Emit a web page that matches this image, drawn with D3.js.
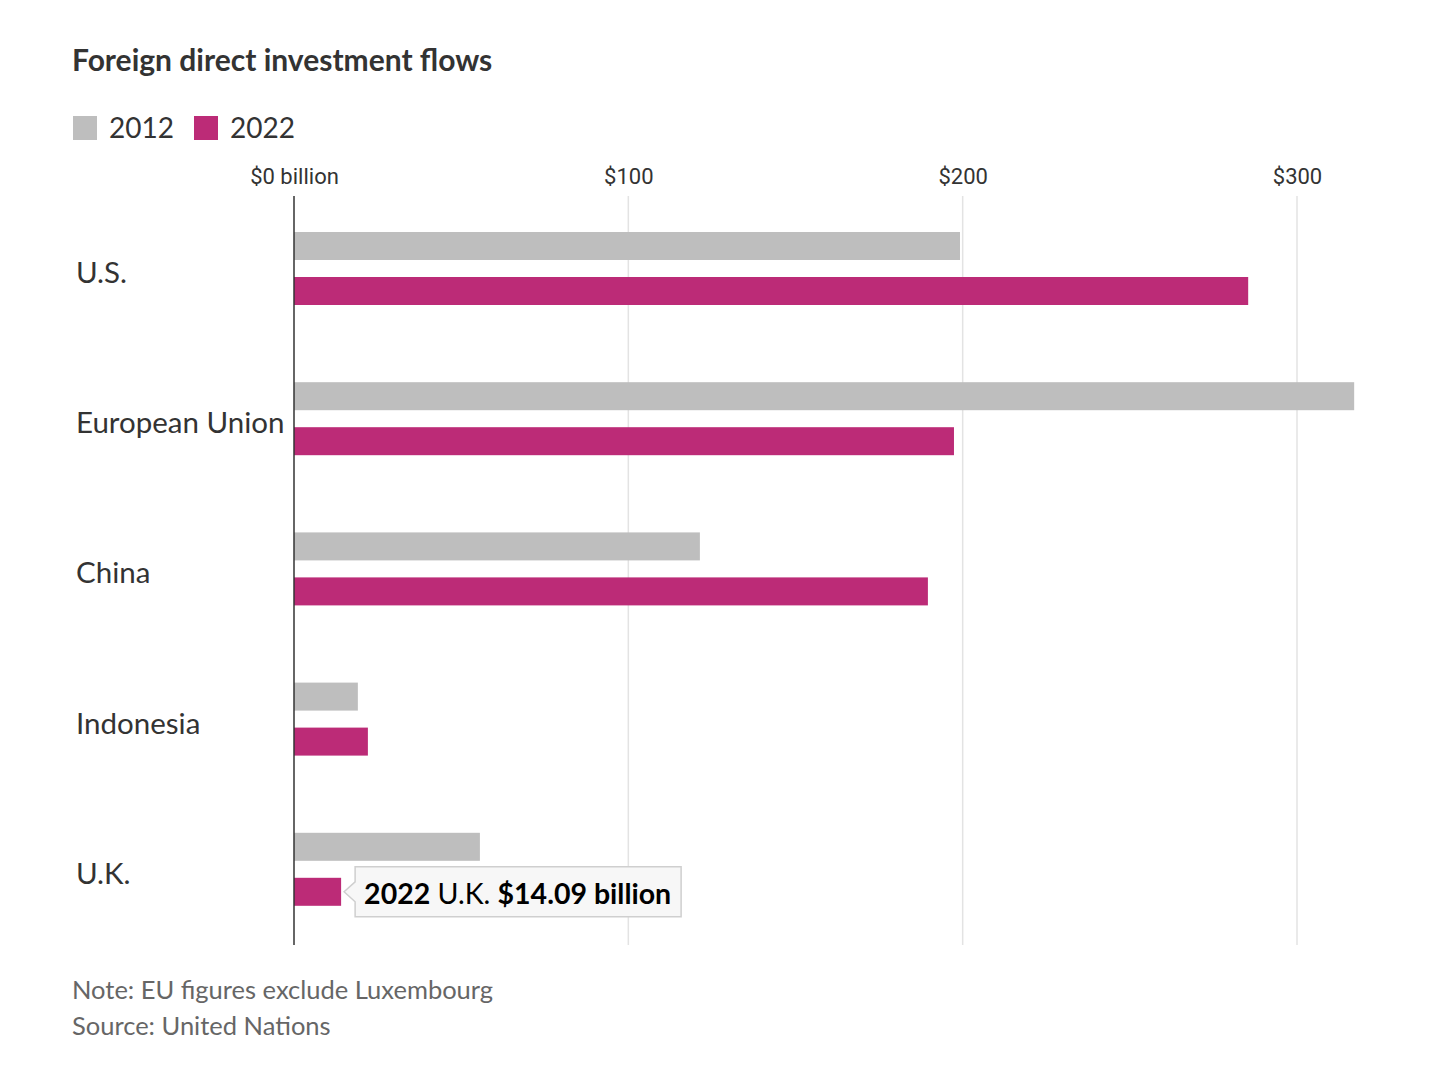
<!DOCTYPE html>
<html><head><meta charset="utf-8">
<script src="https://cdn.jsdelivr.net/npm/d3@7"></script>
<style>
body{margin:0;background:#fff;}
svg{display:block;}
</style></head><body>
<svg id="chart" width="1450" height="1072"></svg>
<script>
const countries = ["U.S.", "European Union", "China", "Indonesia", "U.K."];
const years = ["2012", "2022"];
const values2012 = [199.2, 317.1, 121.4, 19.1, 55.6];
const values2022 = [285.4, 197.4, 189.6, 22.1, 14.09];
const tickValues = [0, 100, 200, 300];
const tickLabels = ["$0 billion", "$100", "$200", "$300"];
const colors = {"2012": "#bebebe", "2022": "#bc2b77"};

const svg = d3.select("#chart");
const font = "Lato, 'Noto Sans', sans-serif";
const narrow = "'Liberation Sans Narrow', 'Roboto', sans-serif";

const x = d3.scaleLinear().domain([0, 300]).range([294, 1297]);
const y = d3.scaleBand().domain(countries).range([232, 906]).paddingInner(77/150.2).paddingOuter(0).align(0);
const yIn = d3.scaleBand().domain(years).range([0, 73]).paddingInner(17/45).paddingOuter(0);

const data = countries.map((c, i) => ({country: c, vals: [{year: "2012", v: values2012[i]}, {year: "2022", v: values2022[i]}]}));

// title
svg.append("text").attr("x", 72).attr("y", 71).attr("font-family", font).attr("font-weight", 700)
  .attr("font-size", 30).attr("fill", "#333").text("Foreign direct investment flows");

// legend
const leg = svg.append("g");
const legX = [73, 194];
years.forEach((yr, i) => {
  leg.append("rect").attr("x", legX[i]).attr("y", 116).attr("width", 24).attr("height", 24).attr("fill", colors[yr]);
  leg.append("text").attr("x", legX[i] + 36).attr("y", 138).attr("font-family", font).attr("font-size", 28)
    .attr("fill", "#333").text(yr);
});

// gridlines
svg.append("g").selectAll("line").data(tickValues.slice(1)).join("line")
  .attr("x1", d => x(d)).attr("x2", d => x(d)).attr("y1", 196).attr("y2", 945)
  .attr("stroke", "#e3e3e3").attr("stroke-width", 1.5);

// top axis labels
const axis = d3.axisTop(x).tickValues(tickValues).tickFormat((d, i) => tickLabels[i]).tickSize(0).tickPadding(0);
const ag = svg.append("g").attr("transform", "translate(0,184)").call(axis);
ag.select(".domain").remove();
ag.selectAll("text").attr("font-family", narrow).attr("font-size", 22).attr("fill", "#333").attr("dy", 0);

// bars
const groups = svg.append("g").selectAll("g").data(data).join("g")
  .attr("transform", d => `translate(0,${y(d.country)})`);
groups.selectAll("rect").data(d => d.vals).join("rect")
  .attr("x", x(0)).attr("y", d => yIn(d.year)).attr("height", yIn.bandwidth())
  .attr("width", d => x(d.v) - x(0)).attr("fill", d => colors[d.year]);

// country labels
svg.append("g").selectAll("text").data(countries).join("text")
  .attr("x", 76).attr("y", d => y(d) + 36.5 + 14.5)
  .attr("font-family", font).attr("font-size", 29.5).attr("fill", "#333").text(d => d);

// zero axis line
svg.append("line").attr("x1", x(0)).attr("x2", x(0)).attr("y1", 196).attr("y2", 945)
  .attr("stroke", "#333").attr("stroke-width", 1.5);

// tooltip for U.K. 2022
const ukIdx = countries.indexOf("U.K.");
const tx = x(values2022[ukIdx]);
const ty = y("U.K.") + yIn("2022") + yIn.bandwidth() / 2;
const tip = svg.append("g").attr("transform", `translate(${tx + 14},${ty})`);
const tw = 326, th = 50;
tip.append("path")
  .attr("d", `M0,${-th/2} H${tw} V${th/2} H0 V10 L-11,0 L0,-10 Z`)
  .attr("fill", "#f7f7f7").attr("stroke", "#cfcfcf").attr("stroke-width", 1.5);
const tt = tip.append("text").attr("x", 9).attr("y", 12).attr("font-family", font).attr("font-size", 28.5).attr("fill", "#000");
tt.append("tspan").attr("font-weight", 700).text("2022");
tt.append("tspan").text(" U.K. ");
tt.append("tspan").attr("font-weight", 700).text("$" + values2022[ukIdx].toFixed(2) + " billion");

// notes
svg.append("text").attr("x", 72).attr("y", 999).attr("font-family", font).attr("font-size", 25.5)
  .attr("fill", "#666").text("Note: EU figures exclude Luxembourg");
svg.append("text").attr("x", 72).attr("y", 1035).attr("font-family", font).attr("font-size", 25.5)
  .attr("fill", "#666").text("Source: United Nations");
</script>
</body></html>
